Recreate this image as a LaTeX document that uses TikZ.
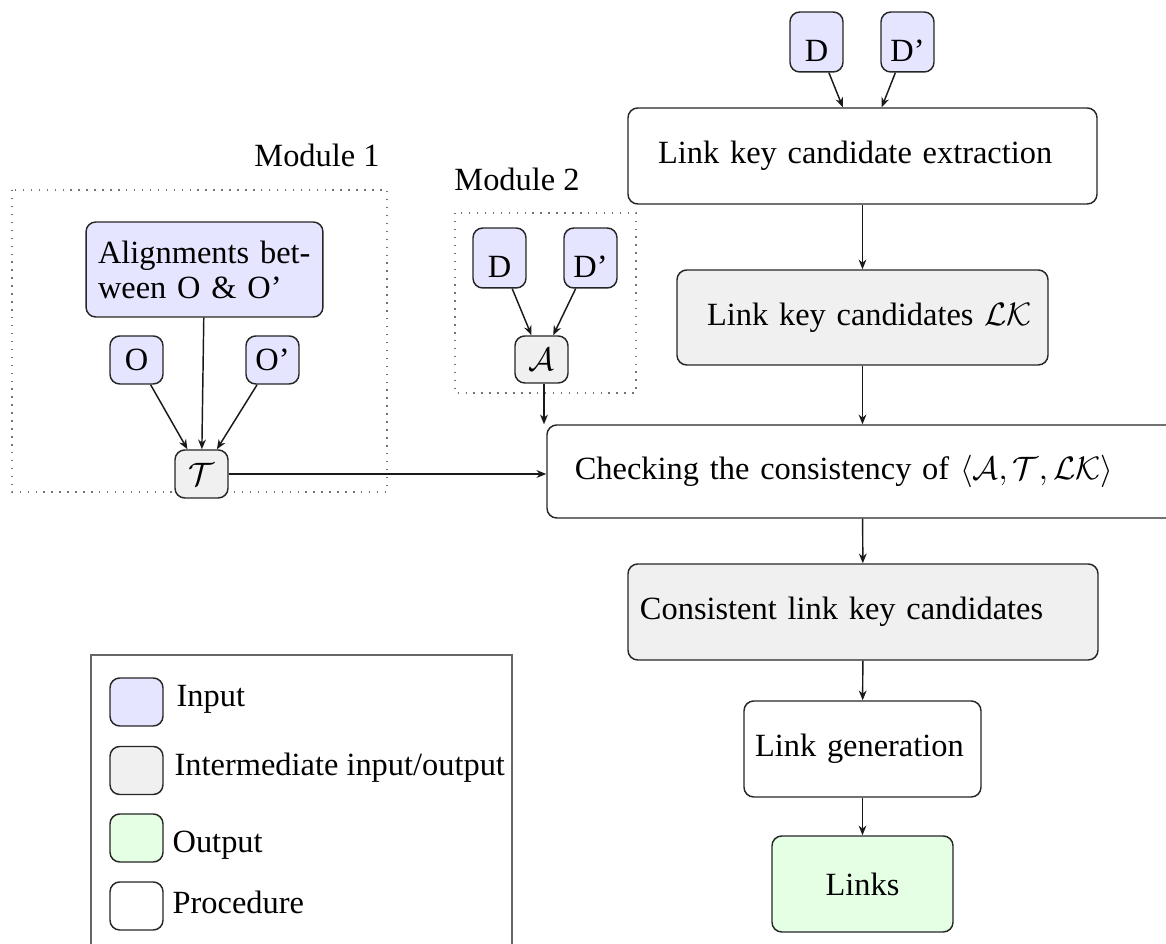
\documentclass[tikz,border=0pt]{standalone}
\usepackage{fontspec}
\setmainfont{Liberation Serif}
\usetikzlibrary{arrows.meta,calc}
\def\pxu{0.3086pt}
\begin{document}
\begin{tikzpicture}[x=0.3086pt,y=-0.3086pt,
 box/.style={draw=black!85, rounded corners=3pt, line width=0.45pt, inner sep=0pt},
 inp/.style={box, fill=blue!10},
 mid/.style={box, fill=black!6},
 outp/.style={box, fill=green!10},
 proc/.style={box, fill=white},
 small/.style={minimum width=53*\pxu, minimum height=48*\pxu},
 dbox/.style={minimum width=53*\pxu, text height=15.4pt, text depth=3.1pt},
 wide/.style={align=left, minimum height=96*\pxu},
 arr/.style={-{Stealth[length=3pt,width=2.4pt]}, line width=0.45pt, draw=black!90},
 modbox/.style={draw=black!55, dotted, line width=0.45pt},
 lab/.style={inner sep=0pt},
 ]
\useasboundingbox (0,0) rectangle (1166,944);

% main column
\node[inp, dbox] (tD) at (816.5,42) {D};
\node[inp, dbox] (tDp) at (907.5,42) {D’};
\node[proc, wide, text width=469*\pxu] (lkce) at (862.5,156)
  {\mbox{\hspace*{9.3pt}Link key candidate extraction}};
\node[mid, wide, text width=371*\pxu, minimum height=95*\pxu] (lk) at (862.5,317.5)
  {\mbox{\hspace*{9.3pt}Link key candidates $\mathcal{LK}$}};
\node[proc, wide, text width=631*\pxu, minimum height=93*\pxu] (check) at (862.5,471.5)
  {\mbox{\hspace*{8.6pt}Checking the consistency of $\langle\mathcal{A},\mathcal{T},\mathcal{LK}\rangle$}};
\node[mid, wide, text width=470*\pxu] (cons) at (863,612)
  {\mbox{\hspace*{3.7pt}Consistent link key candidates}};
\node[proc, wide, text width=237*\pxu] (gen) at (862.5,749)
  {\mbox{\hspace*{3.4pt}Link generation}};
\node[outp, minimum width=181*\pxu, minimum height=96*\pxu] (links) at (862.5,884) {Links};

\draw[arr] (tD) -- (lkce);
\draw[arr] (tDp) -- (lkce);
\draw[arr] (lkce) -- (lk);
\draw[arr] (lk) -- (check);
\draw[arr] (check) -- (cons);
\draw[arr] (cons) -- (gen);
\draw[arr] (gen) -- (links);

% module 1
\draw[modbox] (12,190) rectangle (387,492);
\node[anchor=base, lab] (m1lab) at (317,167) {Module 1};
\node[inp, align=left, text width=65.7pt, inner xsep=3.7pt, minimum height=95*\pxu,
  font=\fontsize{10}{10.8}\selectfont] (align) at (204.5,269.5)
  {Alignments bet-\\ween O \& O’};
\node[inp, small] (O) at (136.5,360) {O};
\node[inp, small] (Op) at (272.5,360) {O’};
\node[mid, small] (T) at (201.5,474) {$\mathcal{T}$};
\draw[arr] (O) -- (T);
\draw[arr] (align) -- (T);
\draw[arr] (Op) -- (T);
\draw[arr] (T) -- (T -| check.west);

% module 2
\draw[modbox] (455,213) rectangle (636,393);
\node[anchor=base, lab] (m2lab) at (517,191) {Module 2};
\node[inp, dbox] (mD) at (499.5,258) {D};
\node[inp, dbox] (mDp) at (590.5,258) {D’};
\node[mid, small, minimum height=47*\pxu] (A) at (541.5,359.5) {$\mathcal{A}$};
\draw[arr] (mD) -- (A);
\draw[arr] (mDp) -- (A);
\draw[arr] ($(A.south)+(2.5,0)$) -- ($(A.south |- check.north)+(2.5,0)$);

% legend
\draw[draw=black!60, line width=0.45pt] (91,655) rectangle (512,970);
\node[inp, small] (sw1) at (136.5,702) {};
\node[mid, small] (sw2) at (136.5,770.5) {};
\node[outp, small] (sw3) at (136.5,838) {};
\node[proc, small] (sw4) at (136.5,906) {};
\node[lab, anchor=base west] (l1) at (176,707) {Input};
\node[lab, anchor=base west] (l2) at (174,776) {Intermediate input/output};
\node[lab, anchor=base west] (l3) at (172,853) {Output};
\node[lab, anchor=base west] (l4) at (172,914) {Procedure};
\end{tikzpicture}
\end{document}
